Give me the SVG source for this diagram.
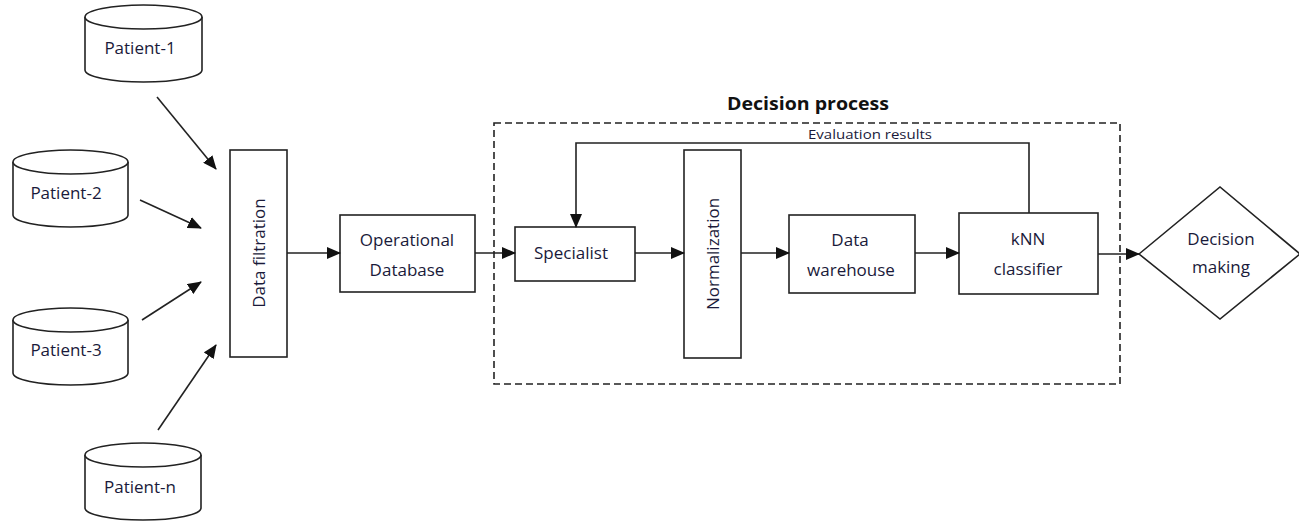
<svg xmlns="http://www.w3.org/2000/svg" width="1299" height="525" viewBox="0 0 1299 525">
<style>
.s{fill:#fff;stroke:#222;stroke-width:1.6}
.t{font-family:"Open Sans","Noto Sans",sans-serif;font-size:17px;fill:#1a1a3a;text-anchor:middle}
.c{fill:none;stroke:#222;stroke-width:1.6}
</style>
<defs>
<marker id="ah" markerWidth="14" markerHeight="12" refX="13" refY="6" orient="auto" markerUnits="userSpaceOnUse">
<path d="M0,0 L14,6 L0,12 Z" fill="#111"/>
</marker>
</defs>
<rect width="1299" height="525" fill="#fff"/>

<g id="title">
<text x="808" y="110" font-family="'Open Sans','Noto Sans',sans-serif" font-weight="bold" font-size="17" text-anchor="middle" fill="#111" textLength="162" lengthAdjust="spacingAndGlyphs">Decision process</text>
</g>
<g id="decision-process-box">
<rect x="494" y="123" width="626" height="261" fill="none" stroke="#222" stroke-width="1.6" stroke-dasharray="7 4"/>
</g>

<g id="patient-1">
<path class="s" d="M85,17 L85,70 A58.5,12 0 0 0 202,70 L202,17"/>
<ellipse class="s" cx="143.5" cy="17" rx="58.5" ry="12"/>
<text class="t" x="140" y="54">Patient-1</text>
</g>
<g id="patient-2">
<path class="s" d="M13,162 L13,215 A57.5,12 0 0 0 128,215 L128,162"/>
<ellipse class="s" cx="70.5" cy="162" rx="57.5" ry="12"/>
<text class="t" x="66" y="199">Patient-2</text>
</g>
<g id="patient-3">
<path class="s" d="M13,320 L13,373 A57.5,12 0 0 0 128,373 L128,320"/>
<ellipse class="s" cx="70.5" cy="320" rx="57.5" ry="12"/>
<text class="t" x="66" y="356">Patient-3</text>
</g>
<g id="patient-n">
<path class="s" d="M85,455 L85,508 A58,12 0 0 0 201,508 L201,455"/>
<ellipse class="s" cx="143" cy="455" rx="58" ry="12"/>
<text class="t" x="140" y="493">Patient-n</text>
</g>

<g id="data-filtration">
<rect class="s" x="230" y="150" width="57" height="207"/>
<text class="t" transform="translate(265,253) rotate(-90)">Data filtration</text>
</g>
<g id="operational-database">
<rect class="s" x="340" y="215" width="135" height="77"/>
<text class="t" x="407" y="246">Operational</text>
<text class="t" x="407" y="276">Database</text>
</g>
<g id="specialist">
<rect class="s" x="515" y="227" width="120" height="54"/>
<text class="t" x="571" y="259">Specialist</text>
</g>
<g id="normalization">
<rect class="s" x="684" y="150" width="57" height="208"/>
<text class="t" transform="translate(719,254) rotate(-90)">Normalization</text>
</g>
<g id="data-warehouse">
<rect class="s" x="789" y="215" width="126" height="78"/>
<text class="t" x="850" y="246">Data</text>
<text class="t" x="851" y="276">warehouse</text>
</g>
<g id="knn-classifier">
<rect class="s" x="959" y="213" width="139" height="81"/>
<text class="t" x="1028" y="245">kNN</text>
<text class="t" x="1028" y="275">classifier</text>
</g>
<g id="decision-making">
<polygon class="s" points="1139,254 1220,187 1300,254 1220,319"/>
<text class="t" x="1221" y="245">Decision</text>
<text class="t" x="1221" y="273">making</text>
</g>

<g id="connectors">
<line class="c" x1="157" y1="97" x2="216" y2="169" marker-end="url(#ah)"/>
<line class="c" x1="140" y1="200" x2="201" y2="228" marker-end="url(#ah)"/>
<line class="c" x1="142" y1="320" x2="201" y2="282" marker-end="url(#ah)"/>
<line class="c" x1="158" y1="430" x2="216" y2="345" marker-end="url(#ah)"/>
<line class="c" x1="287" y1="253" x2="340" y2="253" marker-end="url(#ah)"/>
<line class="c" x1="475" y1="253" x2="515" y2="253" marker-end="url(#ah)"/>
<line class="c" x1="635" y1="253" x2="684" y2="253" marker-end="url(#ah)"/>
<line class="c" x1="741" y1="253" x2="789" y2="253" marker-end="url(#ah)"/>
<line class="c" x1="915" y1="253" x2="959" y2="253" marker-end="url(#ah)"/>
<line class="c" x1="1098" y1="254" x2="1139" y2="254" marker-end="url(#ah)"/>
<polyline class="c" points="1029,213 1029,143 576,143 576,227" marker-end="url(#ah)"/>
<text x="870" y="139" font-family="'Open Sans','Noto Sans',sans-serif" font-size="13" text-anchor="middle" fill="#1a1a3a" textLength="124" lengthAdjust="spacingAndGlyphs">Evaluation results</text>
</g>
</svg>
